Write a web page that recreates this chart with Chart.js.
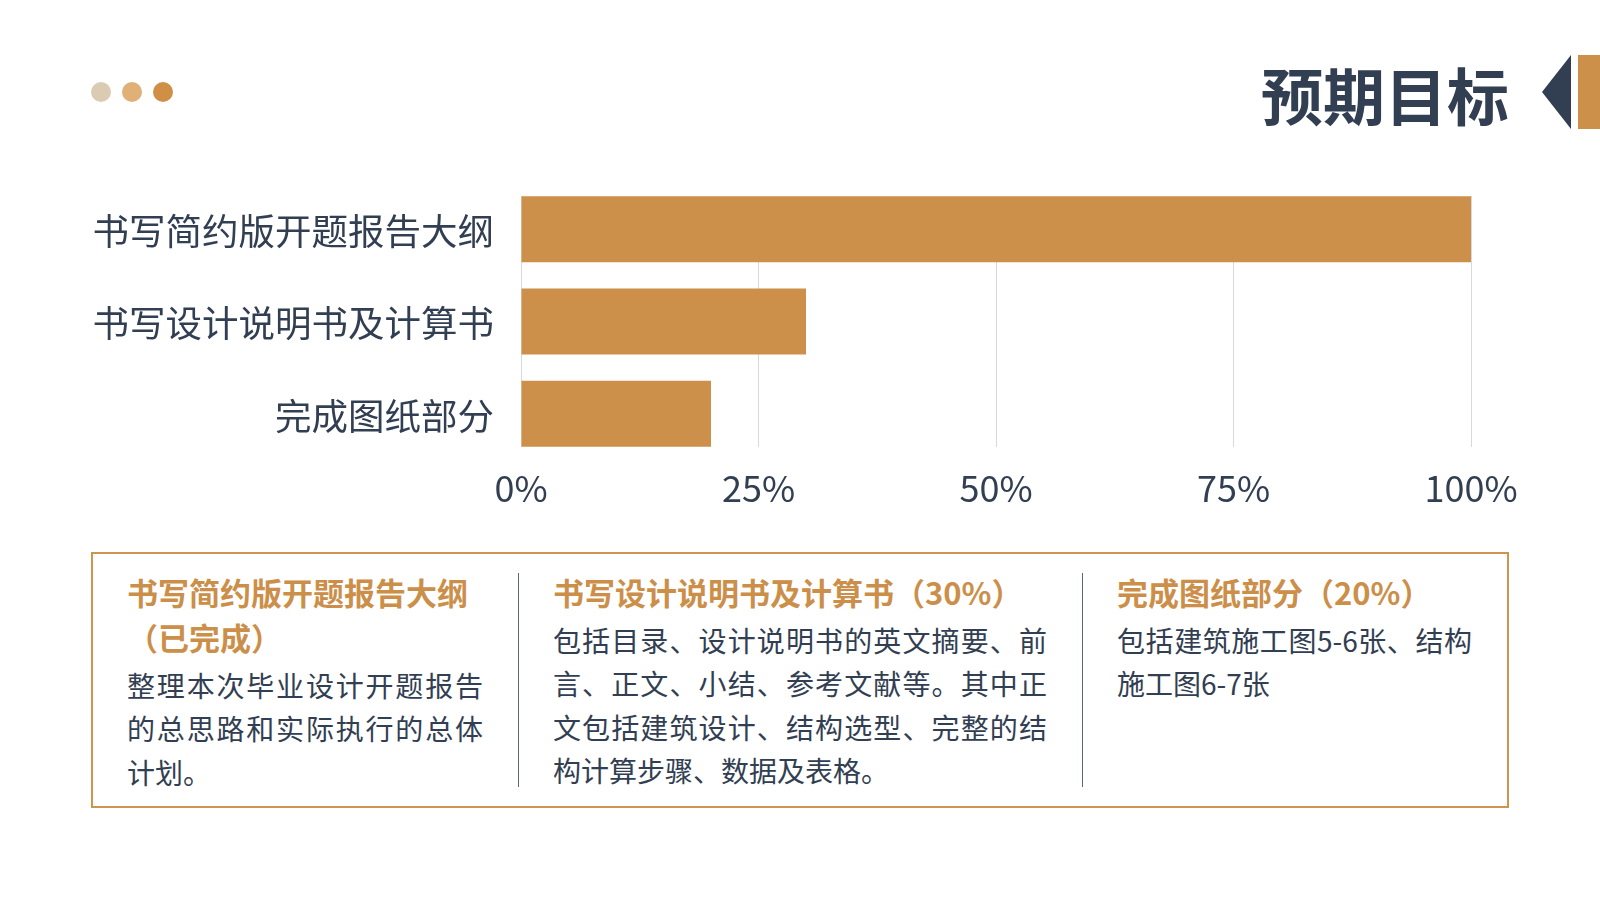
<!DOCTYPE html>
<html lang="zh-CN">
<head>
    <meta charset="UTF-8">
    <title>预期目标</title>
    <script src="https://cdn.jsdelivr.net/npm/chart.js"></script>
    <style>
        body {
            margin: 0;
            width: 1600px;
            height: 900px;
            background: #fff;
            font-family: "Noto Sans CJK SC", "Noto Sans", sans-serif;
            color: #323e52;
            position: relative;
            overflow: hidden;
        }
        .dot {
            position: absolute;
            top: 82px;
            width: 20px;
            height: 20px;
            border-radius: 50%;
        }
        #title {
            position: absolute;
            right: 91px;
            top: 50px;
            margin: 0;
            font-size: 62px;
            line-height: 88px;
            font-weight: 700;
            color: #323e52;
        }
        #flag {
            position: absolute;
            left: 1540px;
            top: 55px;
        }
        #chartBox {
            position: absolute;
            left: 0;
            top: 170px;
            width: 1600px;
            height: 360px;
        }
        #notes {
            position: absolute;
            left: 91px;
            top: 552px;
            width: 1414px;
            height: 252px;
            border: 2px solid #cf9450;
            display: flex;
        }
        .col {
            box-sizing: border-box;
            padding: 15px 35px 0 35px;
            text-align: justify;
        }
        .col.first {
            padding-left: 34px;
        }
        .col h3 {
            margin: 0 0 5px 0;
            font-size: 31px;
            line-height: 45px;
            font-weight: 700;
            text-align: left;
            color: #cc8f4a;
        }
        .col p {
            margin: 0;
            font-size: 28px;
            line-height: 43.4px;
            color: #323e52;
        }
    </style>
</head>
<body>
    <div class="dot" style="left:91px;background:#dccbb3"></div>
    <div class="dot" style="left:122px;background:#e0b077"></div>
    <div class="dot" style="left:153px;background:#cf9046"></div>

    <h1 id="title">预期目标</h1>
    <svg id="flag" width="60" height="74">
        <polygon points="31,0 2,37 31,74" fill="#323e52"></polygon>
        <rect x="38" y="0" width="22" height="74" fill="#cd904a"></rect>
    </svg>

    <div id="chartBox">
        <canvas id="goalChart" width="1600" height="360"></canvas>
    </div>

    <div id="notes">
        <div class="col first" style="width:425px">
            <h3>书写简约版开题报告大纲（已完成）</h3>
            <p>整理本次毕业设计开题报告的总思路和实际执行的总体计划。</p>
        </div>
        <div class="col" style="width:564px">
            <h3>书写设计说明书及计算书（30%）</h3>
            <p>包括目录、设计说明书的英文摘要、前言、正文、小结、参考文献等。其中正文包括建筑设计、结构选型、完整的结构计算步骤、数据及表格。</p>
        </div>
        <div class="col" style="width:425px">
            <h3>完成图纸部分（20%）</h3>
            <p>包括建筑施工图5-6张、结构施工图6-7张</p>
        </div>
    </div>

    <script>
        const categories = ['书写简约版开题报告大纲', '书写设计说明书及计算书', '完成图纸部分'];
        const progress = [100, 30, 20];
        const tickValues = [0, 25, 50, 75, 100];

        Chart.defaults.font.family = '"Noto Sans CJK SC", "Noto Sans", sans-serif';
        Chart.defaults.color = '#323e52';

        // thin dividers between columns, inset from the box edges
        document.querySelectorAll('.col + .col').forEach(c => {
            c.style.backgroundImage = 'linear-gradient(#5d6678, #5d6678)';
            c.style.backgroundRepeat = 'no-repeat';
            c.style.backgroundSize = '1px 214px';
            c.style.backgroundPosition = '0 19px';
        });

        const ctx = document.getElementById('goalChart').getContext('2d');
        new Chart(ctx, {
            type: 'bar',
            data: {
                datasets: [{
                    data: progress.map((v, i) => ({ x: v, y: i })),
                    backgroundColor: '#cd904a',
                    borderWidth: 0,
                    categoryPercentage: 1,
                    barPercentage: 0.715
                }]
            },
            options: {
                indexAxis: 'y',
                responsive: false,
                animation: false,
                layout: {
                    padding: { top: 26, right: 129, bottom: 0, left: 0 }
                },
                plugins: {
                    legend: { display: false },
                    tooltip: { enabled: false }
                },
                scales: {
                    x: {
                        type: 'linear',
                        min: 0,
                        max: 100,
                        afterBuildTicks: axis => {
                            axis.ticks = tickValues.map(v => ({ value: v }));
                        },
                        afterFit: axis => { axis.height = 83; },
                        grid: {
                            color: '#d9d9d9',
                            lineWidth: 1,
                            drawTicks: false
                        },
                        border: { display: false },
                        ticks: {
                            padding: 20,
                            font: { size: 36 },
                            color: '#323e52',
                            callback: v => v + '%'
                        }
                    },
                    y: {
                        type: 'linear',
                        bounds: 'data',
                        offset: false,
                        min: -0.36,
                        max: 2.36,
                        reverse: true,
                        afterBuildTicks: axis => {
                            axis.ticks = categories.map((c, i) => ({ value: i }));
                        },
                        afterFit: axis => {
                            axis.width = 521;
                            axis.paddingTop = 0;
                            axis.paddingBottom = 0;
                        },
                        grid: { display: false, drawTicks: false },
                        border: { display: false },
                        ticks: {
                            autoSkip: false,
                            padding: 27,
                            labelOffset: 2,
                            font: { size: 36.5 },
                            color: '#323e52',
                            callback: v => categories[v]
                        }
                    }
                }
            }
        });
    </script>
</body>
</html>
